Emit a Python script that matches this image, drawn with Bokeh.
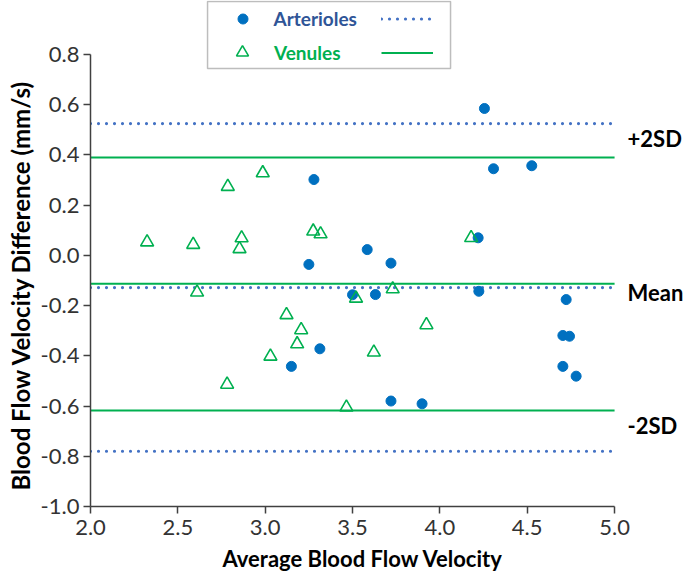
from bokeh.plotting import figure
from bokeh.models import (Legend, LegendItem, BoxAnnotation, FixedTicker,
                          NumeralTickFormatter, ColumnDataSource, Title)
from bokeh.core.properties import value
from bokeh.embed import file_html
from bokeh.resources import INLINE

# ---- data ----
art_x = [3.279, 3.584, 3.250, 3.720, 4.255, 4.307, 4.526, 4.219, 3.631, 4.223,
         3.500, 3.313, 3.150, 3.720, 4.723, 4.704, 4.742, 4.704, 4.780, 3.898]
art_y = [0.302, 0.023, -0.036, -0.031, 0.585, 0.345, 0.357, 0.070, -0.156, -0.143,
         -0.157, -0.372, -0.442, -0.580, -0.176, -0.319, -0.322, -0.442, -0.481, -0.591]
ven_x = [2.324, 2.588, 2.786, 2.986, 2.865, 2.853, 3.275, 3.317, 2.610, 4.179,
         3.730, 3.520, 3.122, 3.206, 3.183, 3.030, 2.782, 3.622, 3.465, 3.923]
ven_y = [0.053, 0.043, 0.274, 0.328, 0.069, 0.026, 0.096, 0.085, -0.147, 0.070,
         -0.134, -0.171, -0.237, -0.297, -0.353, -0.402, -0.514, -0.386, -0.605, -0.277]

art_limits = [0.525, -0.128, -0.780]   # +2SD, mean, -2SD (arterioles)
ven_limits = [0.390, -0.113, -0.618]   # +2SD, mean, -2SD (venules)
sd_labels = ["+2SD", "Mean", "-2SD"]

x_ticks = [2.0, 2.5, 3.0, 3.5, 4.0, 4.5, 5.0]
y_ticks = [-1.0, -0.8, -0.6, -0.4, -0.2, 0.0, 0.2, 0.4, 0.6, 0.8]

x_title = "Average Blood Flow Velocity"
y_title = "Blood Flow Velocity Difference (mm/s)"

FONT = "Lato"
BLUE = "#0070C0"
BLUE_LINE = "#4472C4"
GREEN = "#00B050"
AXIS = "#404040"

p = figure(width=685, height=577, x_range=(2.0, 5.406), y_range=(-1.0, 1.015),
           output_backend="svg", toolbar_location=None, title=None,
           min_border_left=90, min_border_right=0, min_border_top=0,
           min_border_bottom=71)
p.outline_line_color = None
p.background_fill_color = "white"
p.border_fill_color = "white"
p.xgrid.visible = False
p.ygrid.visible = False

for ax, ticks in ((p.xaxis[0], x_ticks), (p.yaxis[0], y_ticks)):
    ax.ticker = FixedTicker(ticks=ticks)
    ax.formatter = NumeralTickFormatter(format="0.0")
    ax.bounds = (ticks[0], ticks[-1])
    ax.axis_line_color = AXIS
    ax.axis_line_width = 1.5
    ax.major_tick_line_color = AXIS
    ax.major_tick_line_width = 1.5
    ax.major_tick_in = 0
    ax.major_tick_out = 7
    ax.minor_tick_line_color = None
    ax.major_label_text_font = FONT
    ax.major_label_text_font_size = "22px"
    ax.major_label_text_color = "#333333"

p.xaxis.major_label_standoff = 6
p.yaxis.major_label_standoff = 4

# axis titles as side titles, placed along the axis extents
p.add_layout(Title(text=x_title, align="left", offset=132, standoff=11,
                   text_font=FONT, text_font_style="bold", text_font_size="22px",
                   text_color="black"), "below")
p.add_layout(Title(text=y_title, align="left", offset=16, standoff=6,
                   text_font=FONT, text_font_style="bold", text_font_size="24px",
                   text_color="black"), "left")

# limit lines
x0, x1 = x_ticks[0], x_ticks[-1]
ven_line = p.segment(x0=x0, x1=x1, y0=ven_limits, y1=ven_limits,
                     line_color=GREEN, line_width=2)
art_line = p.segment(x0=x0, x1=x1, y0=art_limits, y1=art_limits,
                     line_color=BLUE_LINE, line_width=3.2, line_dash="0 8",
                     line_cap="round")

# points
art_r = p.scatter(art_x, art_y, marker="circle", size=10,
                  fill_color=BLUE, line_color=BLUE)
ven_r = p.scatter(ven_x, ven_y, marker="triangle", size=13,
                  fill_color="white", fill_alpha=0, line_color=GREEN, line_width=1.6)

# SD labels on the right (between the two series' lines)
lab_src = ColumnDataSource(dict(
    x=[x1] * 3,
    y=[(a + v) / 2 for a, v in zip(art_limits, ven_limits)],
    text=sd_labels,
    dy=[-2, 7, -5],
))
p.text(x="x", y="y", text="text", source=lab_src, x_offset=13, y_offset="dy",
       text_font=value(FONT), text_font_style="bold", text_font_size="22px",
       text_color="black", text_align="left", text_baseline="middle")

# legend frame
p.add_layout(BoxAnnotation(left=2.670, right=4.061, top=1.011, bottom=0.744,
                           fill_color="white", fill_alpha=1.0,
                           line_color="#262626", line_width=1.5))

common = dict(padding=0, margin=0, border_line_color=None,
              background_fill_alpha=0, label_text_font=FONT,
              label_text_font_style="bold", label_text_font_size="19px")

legA = Legend(items=[LegendItem(label="Arterioles", renderers=[art_r])],
              location=(139.5, 475.5), glyph_width=25, glyph_height=25,
              label_height=25, label_standoff=19, label_text_color="#2F5597",
              **common)
legB = Legend(items=[LegendItem(label="Venules", renderers=[ven_r])],
              location=(137, 439), glyph_width=30, glyph_height=30,
              label_height=30, label_standoff=17, label_text_color=GREEN,
              **common)
legC = Legend(items=[LegendItem(label=" ", renderers=[art_line]),
                     LegendItem(label=" ", renderers=[ven_line])],
              location=(291, 441.5), glyph_width=52, glyph_height=25,
              label_height=25, label_width=0, label_standoff=0, spacing=9,
              **common)
for lg in (legA, legB, legC):
    p.add_layout(lg)

open("out.html", "w").write(file_html(p, INLINE))
